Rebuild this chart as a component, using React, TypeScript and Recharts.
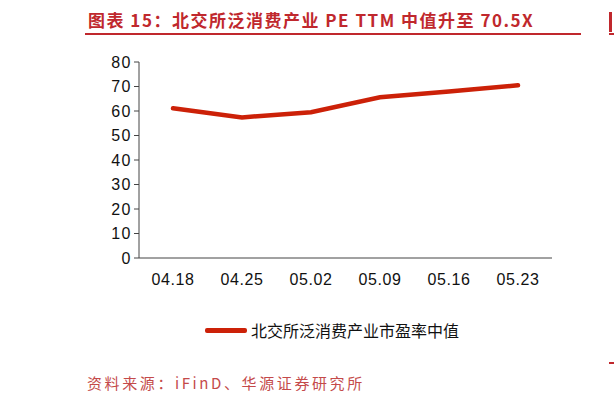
import React from 'react';
import { LineChart, Line, XAxis, YAxis, Legend } from 'recharts';

// 北交所泛消费产业市盈率中值 (PE TTM), weekly
const dates = ['04.18', '04.25', '05.02', '05.09', '05.16', '05.23'];
const peMedian = [61.1, 57.4, 59.5, 65.6, 68.0, 70.5];
const yTicks = [0, 10, 20, 30, 40, 50, 60, 70, 80];
const bandEdges = [0, 1, 2, 3, 4, 5, 6];

const seriesName = '北交所泛消费产业市盈率中值';
const titleText = '图表 15：北交所泛消费产业 PE TTM 中值升至 70.5X';
const sourceText = '资料来源：iFinD、华源证券研究所';

const RED = '#c0282d';
const LINE_RED = '#cc2108';

const chartData = dates.map((d, i) => ({ date: d, pe: peMedian[i] }));

const renderLegend = () => (
  <div style={{ position: 'relative', height: 22 }}>
    <span
      style={{
        position: 'absolute',
        left: 205,
        top: 8,
        width: 42,
        height: 5,
        borderRadius: 2,
        background: LINE_RED,
      }}
    />
    <span
      style={{
        position: 'absolute',
        left: 251,
        top: 0,
        fontSize: 16,
        lineHeight: '20px',
        color: '#111',
        fontFamily: '"Noto Sans CJK SC", sans-serif',
        whiteSpace: 'nowrap',
      }}
    >
      {seriesName}
    </span>
  </div>
);

const App: React.FC = () => {
  const xTickStyle = { fontSize: 16, fill: '#111', fontFamily: '"Liberation Sans", Arial, sans-serif', letterSpacing: 0.6 };
  const yTickStyle = { fontSize: 16, fill: '#111', fontFamily: '"Liberation Sans", Arial, sans-serif', letterSpacing: 1.5 };
  return (
    <div style={{ position: 'absolute', left: 0, top: 0, width: 614, height: 402, background: '#fff', overflow: 'hidden' }}>
      <div
        style={{
          position: 'absolute',
          left: 88,
          top: 9,
          fontSize: 17,
          fontWeight: 'bold',
          letterSpacing: 1.5,
          color: RED,
          fontFamily: '"Noto Sans CJK SC", sans-serif',
          whiteSpace: 'nowrap',
          lineHeight: '22px',
        }}
      >
        {titleText}
      </div>
      <div style={{ position: 'absolute', left: 85, top: 33, width: 496, height: 2, background: RED }} />
      {/* clipped start of neighbouring panel */}
      <div style={{ position: 'absolute', left: 609, top: 12, width: 3, height: 20, background: RED }} />
      <div style={{ position: 'absolute', left: 609, top: 33, width: 5, height: 2, background: RED }} />
      <div style={{ position: 'absolute', left: 609, top: 362, width: 5, height: 2, background: RED }} />

      <div style={{ position: 'absolute', left: 0, top: 0 }}>
        <LineChart width={614} height={402} data={chartData} margin={{ top: 62, right: 62, bottom: 114, left: 99 }}>
          <XAxis
            xAxisId="edges"
            type="number"
            domain={[0, 6]}
            ticks={bandEdges}
            allowDataOverflow
            height={0}
            axisLine={false}
            tick={false}
            tickSize={5}
            tickLine={{ stroke: '#444' }}
          />
          <XAxis
            dataKey="date"
            padding={{ left: 34, right: 34 }}
            height={30}
            tickLine={false}
            tickMargin={10}
            axisLine={{ stroke: '#444' }}
            tick={xTickStyle}
            interval={0}
          />
          <YAxis
            domain={[0, 80]}
            ticks={yTicks}
            width={40}
            tickSize={5}
            tickMargin={2}
            axisLine={{ stroke: '#444' }}
            tickLine={{ stroke: '#444' }}
            tick={yTickStyle}
          />
          <Legend
            verticalAlign="middle"
            layout="horizontal"
            content={renderLegend}
            wrapperStyle={{ position: 'absolute', top: 320, left: 0, width: 614, height: 22 }}
          />
          <Line
            type="linear"
            dataKey="pe"
            name={seriesName}
            stroke={LINE_RED}
            strokeWidth={4.5}
            strokeLinecap="round"
            dot={false}
            activeDot={false}
            isAnimationActive={false}
          />
        </LineChart>
      </div>

      <div
        style={{
          position: 'absolute',
          left: 87,
          top: 373,
          fontSize: 15,
          letterSpacing: 2.6,
          color: '#c44a4a',
          fontFamily: '"Noto Sans CJK SC", sans-serif',
          whiteSpace: 'nowrap',
          lineHeight: '20px',
        }}
      >
        {sourceText}
      </div>
    </div>
  );
};

export default App;
